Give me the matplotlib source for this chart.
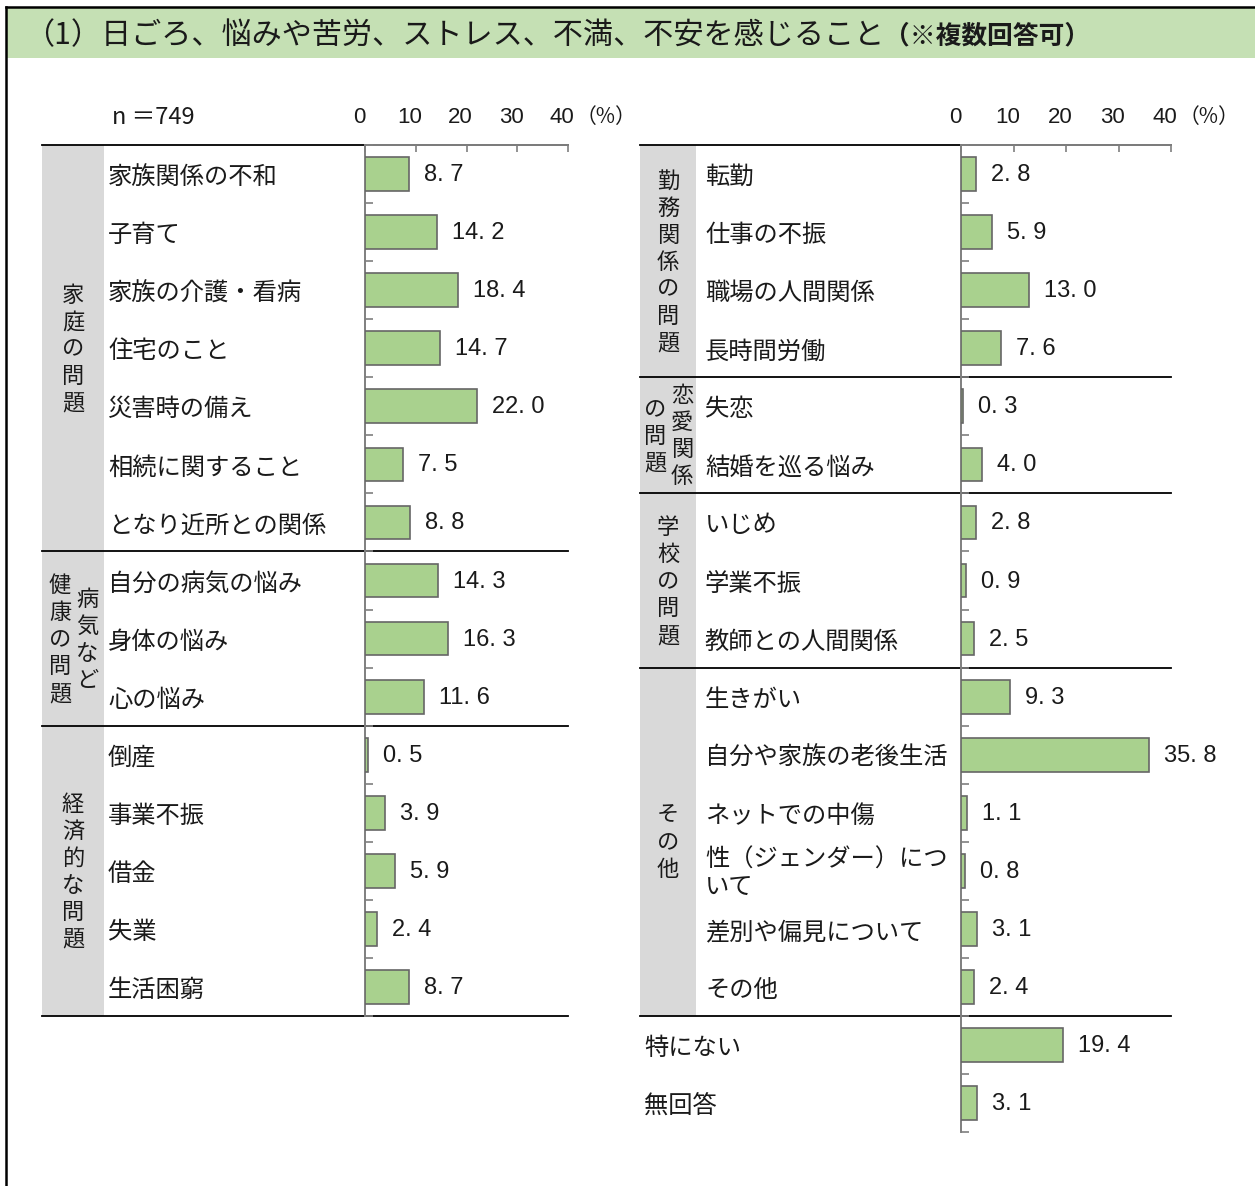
import matplotlib
matplotlib.use("Agg")
import matplotlib.pyplot as plt
from matplotlib import font_manager
from matplotlib.patches import Rectangle
from matplotlib.transforms import ScaledTranslation

# left block: family / health / economy
left_labels = ["家族関係の不和", "子育て", "家族の介護・看病", "住宅のこと", "災害時の備え",
               "相続に関すること", "となり近所との関係",
               "自分の病気の悩み", "身体の悩み", "心の悩み",
               "倒産", "事業不振", "借金", "失業", "生活困窮"]
left_values = [8.7, 14.2, 18.4, 14.7, 22.0, 7.5, 8.8,
               14.3, 16.3, 11.6,
               0.5, 3.9, 5.9, 2.4, 8.7]
left_group_sizes = [7, 3, 5]
left_group_names = [["家庭の問題"], ["健康の問題", "病気など"], ["経済的な問題"]]

# right block: work / love / school / other, then two ungrouped rows
right_labels = ["転勤", "仕事の不振", "職場の人間関係", "長時間労働",
                "失恋", "結婚を巡る悩み",
                "いじめ", "学業不振", "教師との人間関係",
                "生きがい", "自分や家族の老後生活", "ネットでの中傷",
                "性（ジェンダー）につ\nいて", "差別や偏見について", "その他",
                "特にない", "無回答"]
right_values = [2.8, 5.9, 13.0, 7.6,
                0.3, 4.0,
                2.8, 0.9, 2.5,
                9.3, 35.8, 1.1, 0.8, 3.1, 2.4,
                19.4, 3.1]
right_group_sizes = [4, 2, 3, 6]
right_group_names = [["勤務関係の問題"], ["の問題", "恋愛関係"], ["学校の問題"], ["その他"]]

x_ticks = [0, 10, 20, 30, 40]
sample_note = "n ＝749"
title_main = "（1）日ごろ、悩みや苦労、ストレス、不満、不安を感じること"
title_note = "（※複数回答可）"

W, H = 1255, 1186
TOP = 145
ROW_H = 58.07
BAR_COLOR = "#A9D18E"
BAR_EDGE = "#666666"
SPINE = "#7f7f7f"
GROUP_BG = "#D9D9D9"
TEXT = "#1a1a1a"

plt.rcParams["font.family"] = ["Noto Sans CJK JP", "DejaVu Sans"]
names = {f.name for f in font_manager.fontManager.ttflist}
NUM_FONT = "Liberation Sans Narrow" if "Liberation Sans Narrow" in names else "Liberation Sans"

fig = plt.figure(figsize=(W / 100, H / 100), dpi=100)

# full-size pixel canvas for frame, labels and group columns
bg = fig.add_axes([0, 0, 1, 1])
bg.set_xlim(0, W)
bg.set_ylim(H, 0)
bg.axis("off")

bg.add_patch(Rectangle((6, 8), W - 6, 50, facecolor="#C5E0B4", edgecolor="none"))
bg.plot([6, W], [7, 7], color="black", lw=1.8, clip_on=False)
bg.plot([6, 6], [7, H], color="black", lw=1.8, clip_on=False)
t = bg.text(24, 36, title_main, fontsize=21.7, va="center", ha="left", color=TEXT)
bg.annotate(title_note, xy=(1, 0.5), xycoords=t, va="center", ha="left",
            fontsize=18.5, weight="bold", color=TEXT)
bg.text(112, 117, sample_note, fontsize=17, va="center", ha="left", color=TEXT)


def fmt(v):
    return f"{v:.1f}".replace(".", ". ")


def draw_panel(labels, values, group_sizes, group_names,
               col_x0, col_x1, label_x, plain_x, ax_x0, ax_x1):
    n = len(labels)
    bottom = TOP + n * ROW_H
    ax = fig.add_axes([ax_x0 / W, 1 - bottom / H, (ax_x1 - ax_x0) / W, (bottom - TOP) / H])
    ax.patch.set_alpha(0)
    rows = list(range(n))
    ax.barh(rows, values, height=0.58, color=BAR_COLOR, edgecolor=BAR_EDGE, linewidth=1.2, zorder=3)
    ax.set_xlim(0, 40)
    ax.set_ylim(n - 0.5, -0.5)

    for i, v in enumerate(values):
        ax.annotate(fmt(v), (v, i), xytext=(15, -1), textcoords="offset pixels",
                    va="center", ha="left", fontsize=17, family=NUM_FONT, color=TEXT)

    ax.xaxis.tick_top()
    ax.set_xticks(x_ticks)
    ax.set_xticklabels([str(x) for x in x_ticks], family=NUM_FONT, fontsize=16, color=TEXT)
    ax.tick_params(axis="x", direction="in", length=5, width=1.2, color=SPINE, pad=12)
    for lbl in ax.get_xticklabels():
        lbl.set_transform(lbl.get_transform() + ScaledTranslation(-0.06, 0, fig.dpi_scale_trans))
    ax.set_yticks([k - 0.5 for k in range(n + 1)])
    ax.set_yticklabels([])
    ax.tick_params(axis="y", direction="in", length=6, width=1.2, color=SPINE)
    for side in ["right", "bottom"]:
        ax.spines[side].set_visible(False)
    for side in ["top", "left"]:
        ax.spines[side].set_color(SPINE)
        ax.spines[side].set_linewidth(1.4)

    bg.text(ax_x1 + 8, 117, "（%）", fontsize=15, va="center", ha="left", color=TEXT)

    grouped = sum(group_sizes)
    bg.add_patch(Rectangle((col_x0, TOP), col_x1 - col_x0, grouped * ROW_H,
                           facecolor=GROUP_BG, edgecolor="none"))
    edges = [0]
    for s in group_sizes:
        edges.append(edges[-1] + s)
    for e in edges:
        yb = TOP + e * ROW_H
        bg.plot([col_x0, ax_x1], [yb, yb], color="black", lw=1.3)

    cx = (col_x0 + col_x1) / 2
    for gi, cols in enumerate(group_names):
        yc = TOP + (edges[gi] + edges[gi + 1]) / 2 * ROW_H
        offsets = [0] if len(cols) == 1 else [-13, 14]
        for word, dx in zip(cols, offsets):
            m = len(word)
            for k, ch in enumerate(word):
                bg.text(cx + dx, yc + 1 + (k - (m - 1) / 2) * 27, ch, fontsize=16,
                        ha="center", va="center", color=TEXT)

    for i, lab in enumerate(labels):
        x = label_x if i < grouped else plain_x
        bg.text(x, TOP + (i + 0.5) * ROW_H + 3, lab, fontsize=17.5, va="center", ha="left",
                linespacing=1.1, color=TEXT)


draw_panel(left_labels, left_values, left_group_sizes, left_group_names,
           42, 104, 108, 108, 365, 568)
draw_panel(right_labels, right_values, right_group_sizes, right_group_names,
           640, 696, 705, 644, 961, 1171)

fig.savefig("out.png", dpi=100)
plt.close(fig)
